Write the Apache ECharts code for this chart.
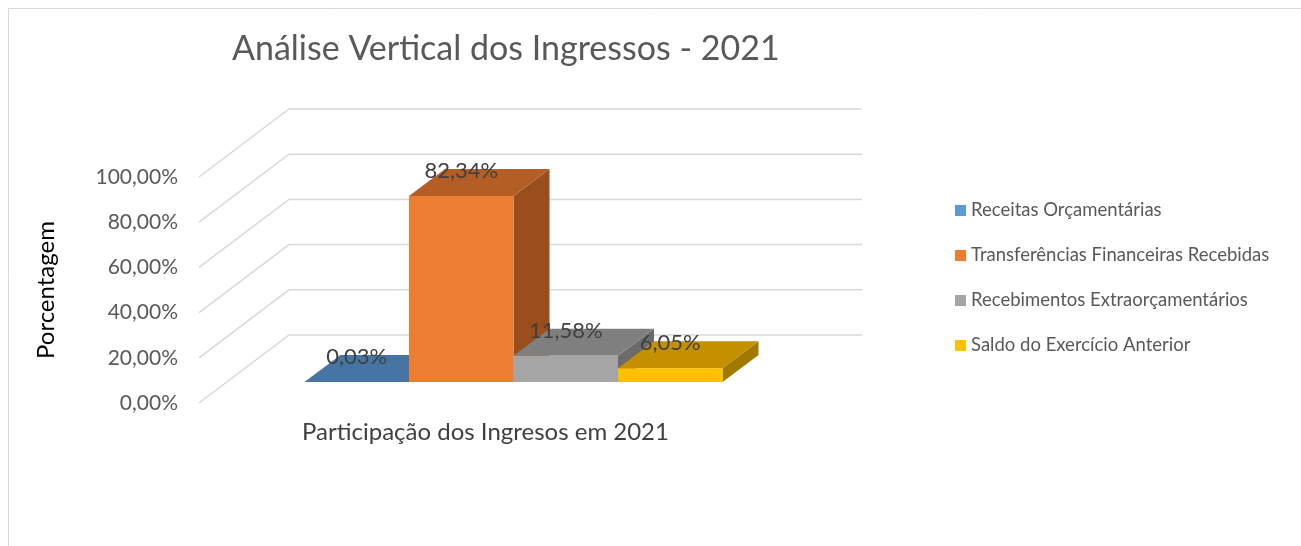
<!DOCTYPE html>
<html>
<head>
<meta charset="utf-8">
<script src="https://cdn.jsdelivr.net/npm/echarts@6/dist/echarts.min.js"></script>
<style>
  html, body { margin: 0; padding: 0; background: #fff; }
  #chart { width: 1301px; height: 546px; }
</style>
</head>
<body>
<div id="chart"></div>
<script>
var categories = ['Participação dos Ingresos em 2021'];
var seriesNames = ['Receitas Orçamentárias', 'Transferências Financeiras Recebidas', 'Recebimentos Extraorçamentários', 'Saldo do Exercício Anterior'];
var values = [0.03, 82.34, 11.58, 6.05];
var valueLabels = ['0,03%', '82,34%', '11,58%', '6,05%'];
var yTicks = [0, 20, 40, 60, 80, 100];

var frontColors = ['#5b9bd5', '#ed7d31', '#a5a5a5', '#ffc000'];
var topColors = ['#4675a3', '#b45d24', '#7f7f7f', '#c49000'];
var sideColors = ['#3a6088', '#9a4e1e', '#6b6b6b', '#a07a00'];

// depth of the floor and of the bars (pixels)
var wallDx = 90, wallDy = -68;
var shiftX = 28, shiftY = -21;
var barDx = 36, barDy = -27;
var font = 'Lato, "Open Sans", sans-serif';

function wallItem(params, api) {
  var cs = params.coordSys;
  var y = api.coord([0, api.value(0)])[1];
  var x0 = cs.x;
  return {
    type: 'polyline',
    shape: { points: [[x0, y], [x0 + wallDx, y + wallDy], [cs.x + cs.width + wallDx, y + wallDy]] },
    style: { stroke: '#d9d9d9', lineWidth: 1.5, fill: null }
  };
}

function barItem(idx) {
  return function (params, api) {
    var band = api.size([1, 0])[0];
    var w = band * 0.1824;
    var base = api.coord([0, 0]);
    var top = api.coord([0, api.value(1)]);
    var x0 = base[0] - 2 * w + idx * w + shiftX;
    var x1 = x0 + w;
    var yb = base[1] + shiftY;
    var yt = top[1] + shiftY;
    return {
      type: 'group',
      children: [
        { type: 'polygon', shape: { points: [[x1, yt], [x1 + barDx, yt + barDy], [x1 + barDx, yb + barDy], [x1, yb]] },
          style: { fill: sideColors[idx] } },
        { type: 'polygon', shape: { points: [[x0, yt], [x1, yt], [x1 + barDx, yt + barDy], [x0 + barDx, yt + barDy]] },
          style: { fill: topColors[idx] } },
        { type: 'rect', shape: { x: x0, y: yt, width: w, height: Math.max(yb - yt, 0) },
          style: { fill: frontColors[idx] } },
        { type: 'text', x: x0 + w / 2, y: yt - 25,
          style: { text: valueLabels[idx], textAlign: 'center', textVerticalAlign: 'middle',
                   fill: '#404040', font: '22px ' + font } }
      ]
    };
  };
}

var series = [{
  type: 'custom',
  name: 'walls',
  data: yTicks.map(function (v) { return [v]; }),
  encode: { y: 0 },
  renderItem: wallItem,
  silent: true,
  z: 1
}];
for (var i = 0; i < seriesNames.length; i++) {
  series.push({
    type: 'custom',
    name: seriesNames[i],
    data: [[0, values[i]]],
    encode: { x: 0, y: 1 },
    itemStyle: { color: frontColors[i] },
    renderItem: barItem(i),
    z: 2 + i
  });
}

var option = {
  animation: false,
  backgroundColor: '#fff',
  textStyle: { fontFamily: font },
  graphic: [{
    type: 'rect',
    shape: { x: 8.5, y: 8.5, width: 1400, height: 700 },
    style: { fill: null, stroke: '#d9d9d9', lineWidth: 1 },
    silent: true
  }],
  title: {
    text: 'Análise Vertical dos Ingressos - 2021',
    left: 227,
    top: 27,
    textStyle: { fontFamily: font, fontSize: 34, fontWeight: 'normal', color: '#595959' }
  },
  legend: {
    data: seriesNames,
    orient: 'vertical',
    left: 950,
    top: 195,
    icon: 'rect',
    itemWidth: 11,
    itemHeight: 11,
    itemGap: 24,
    textStyle: { fontFamily: font, fontSize: 18.5, color: '#595959', lineHeight: 21 }
  },
  grid: { left: 199, top: 177, width: 573, height: 226 },
  xAxis: {
    type: 'category',
    data: categories,
    axisLine: { show: false },
    axisTick: { show: false },
    axisLabel: { margin: 17, fontSize: 24, color: '#404040', fontFamily: font }
  },
  yAxis: {
    type: 'value',
    min: 0,
    max: 100,
    interval: 20,
    name: 'Porcentagem',
    nameLocation: 'middle',
    nameRotate: 90,
    nameGap: 141,
    nameTextStyle: { fontSize: 24, color: '#000', fontFamily: font },
    axisLine: { show: false },
    axisTick: { show: false },
    splitLine: { show: false },
    axisLabel: {
      margin: 21,
      fontSize: 21,
      color: '#595959',
      fontFamily: font,
      formatter: function (v) { return v.toFixed(2).replace('.', ',') + '%'; }
    }
  },
  series: series
};

var chart = echarts.init(document.getElementById('chart'));
chart.setOption(option);
</script>
</body>
</html>
